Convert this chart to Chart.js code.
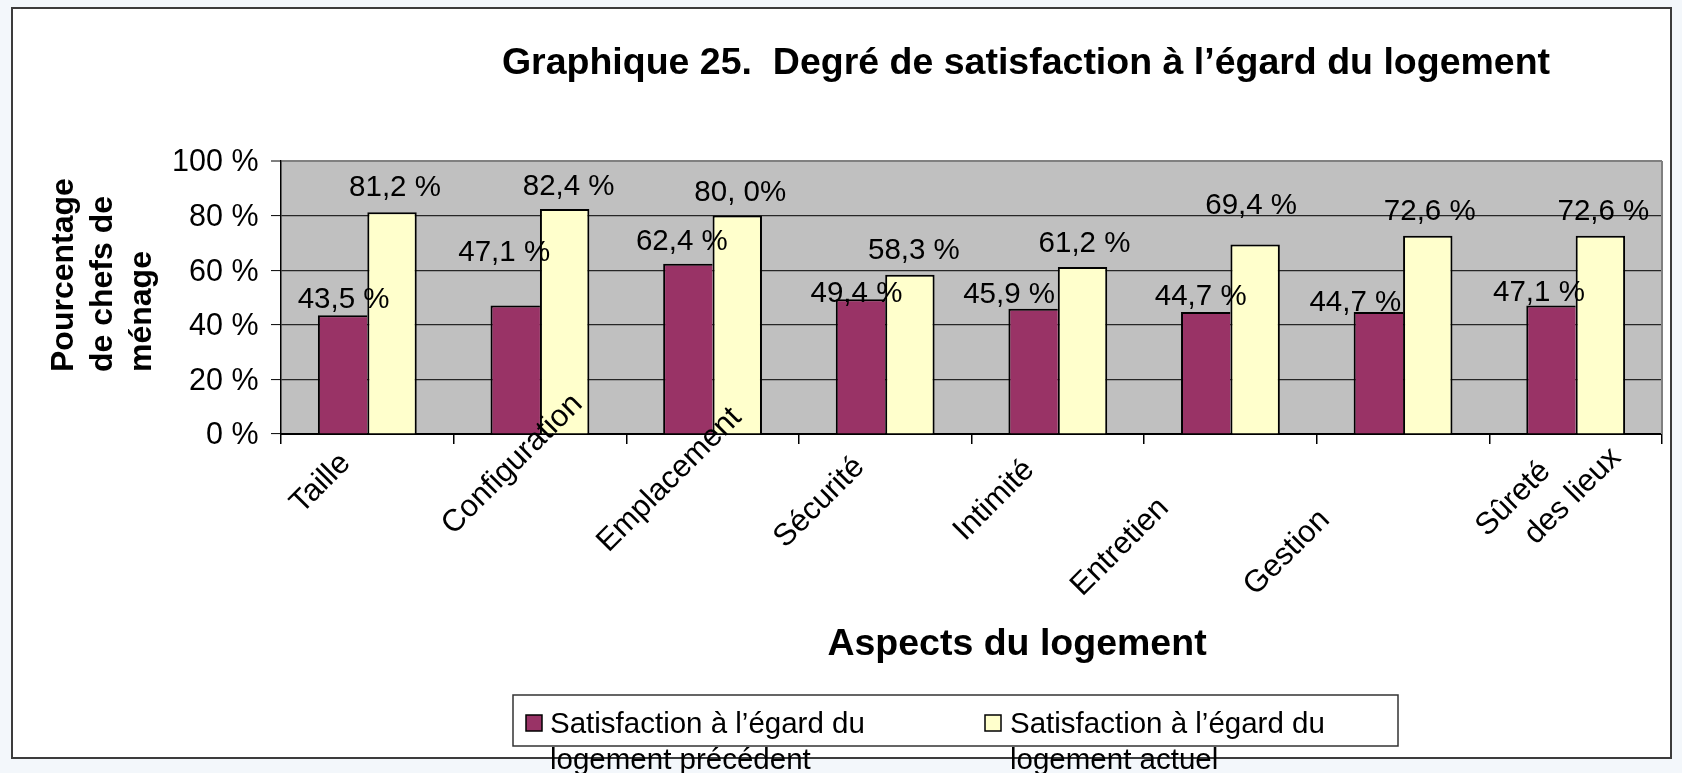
<!DOCTYPE html>
<html>
<head>
<meta charset="utf-8">
<script src="https://cdn.jsdelivr.net/npm/chart.js@4"></script>
<style>
html,body{margin:0;padding:0;background:#F3F7FB;width:1682px;height:773px;overflow:hidden}
#frame{position:absolute;left:11px;top:7px;width:1661px;height:752px;background:#fff;border:2px solid #3c3c3c;box-sizing:border-box}
#c{position:absolute;left:0;top:0}
</style>
</head>
<body>
<div id="frame"></div>
<canvas id="c" width="1682" height="773"></canvas>
<script>
// ---- data ----
const categories = ['Taille', 'Configuration', 'Emplacement', 'Sécurité', 'Intimité', 'Entretien', 'Gestion', ['Sûreté', 'des lieux']];
const previousValues = [43.5, 47.1, 62.4, 49.4, 45.9, 44.7, 44.7, 47.1];
const currentValues = [81.2, 82.4, 80.0, 58.3, 61.2, 69.4, 72.6, 72.6];
const previousLabels = ['43,5 %', '47,1 %', '62,4 %', '49,4 %', '45,9 %', '44,7 %', '44,7 %', '47,1 %'];
const currentLabels = ['81,2 %', '82,4 %', '80, 0%', '58,3 %', '61,2 %', '69,4 %', '72,6 %', '72,6 %'];
const seriesNames = [['Satisfaction à l’égard du', 'logement précédent'], ['Satisfaction à l’égard du', 'logement actuel']];
const yTicks = [0, 20, 40, 60, 80, 100];
const chartTitle = 'Graphique 25.  Degré de satisfaction à l’égard du logement';
const xTitle = 'Aspects du logement';
const yTitle = ['Pourcentage', 'de chefs de', 'ménage'];

// ---- label nudges (pixels, relative to the bar top / tick) ----
const prevLabelShift = [[1, 7], [-11, 44], [-6, 14], [-4, -3], [-24, 6], [-5, 7], [-23, 1], [-12, 4]];
const currLabelShift = [[3, 16], [4, 14], [3, 15], [4, 16], [2, 15], [-4, 31], [2, 16], [3, 16]];
const xLabelAlong = [68, 41, 63, 95, 92, 158, 166, [90, 46]];

const FONT = "'Liberation Sans', Arial, sans-serif";
const COLORS = ['#993366', '#FFFFCC'];

const decor = {
  id: 'decor',
  beforeDraw(chart) {
    const {ctx, chartArea: a} = chart;
    ctx.save();
    ctx.fillStyle = '#C0C0C0';
    ctx.fillRect(a.left, a.top, a.right - a.left, a.bottom - a.top);
    ctx.restore();
  },
  afterDatasetsDraw(chart) {
    const ctx = chart.ctx;
    ctx.save();
    ctx.font = '29.5px ' + FONT;
    ctx.fillStyle = '#000';
    ctx.textAlign = 'center';
    ctx.textBaseline = 'alphabetic';
    [[previousLabels, prevLabelShift], [currentLabels, currLabelShift]].forEach(([txt, sh], di) => {
      chart.getDatasetMeta(di).data.forEach((el, i) => {
        ctx.fillText(txt[i], el.x + sh[i][0], el.y - sh[i][1]);
      });
    });
    ctx.restore();
  },
  afterDraw(chart) {
    const {ctx, chartArea: a} = chart;
    ctx.save();
    // right border of plot area
    ctx.strokeStyle = '#808080';
    ctx.lineWidth = 2;
    ctx.beginPath();
    ctx.moveTo(a.right, a.top);
    ctx.lineTo(a.right, a.bottom);
    ctx.stroke();

    // main title
    ctx.fillStyle = '#000';
    ctx.font = 'bold 37.5px ' + FONT;
    ctx.textAlign = 'center';
    ctx.textBaseline = 'alphabetic';
    ctx.fillText(chartTitle, 1026, 74);

    // x axis title
    ctx.fillText(xTitle, 1017, 655);

    // y axis title
    ctx.font = 'bold 32px ' + FONT;
    ctx.textAlign = 'left';
    yTitle.forEach((line, j) => {
      ctx.save();
      ctx.translate(73 + 39 * j, 372);
      ctx.rotate(-Math.PI / 2);
      ctx.fillText(line, 0, 0);
      ctx.restore();
    });

    // rotated category labels
    const xs = chart.scales.x;
    ctx.font = '31px ' + FONT;
    ctx.textAlign = 'center';
    ctx.textBaseline = 'middle';
    const r = Math.SQRT1_2;
    categories.forEach((lab, i) => {
      const lines = Array.isArray(lab) ? lab : [lab];
      const tx = xs.getPixelForValue(i);
      lines.forEach((line, j) => {
        const along = Array.isArray(xLabelAlong[i]) ? xLabelAlong[i][j] : xLabelAlong[i];
        const perp = 2 + j * 40;
        const cx = tx - along * r + perp * r;
        const cy = a.bottom + along * r + perp * r;
        ctx.save();
        ctx.translate(cx, cy);
        ctx.rotate(-Math.PI / 4);
        ctx.fillText(line, 0, 0);
        ctx.restore();
      });
    });

    // legend
    ctx.strokeStyle = '#333';
    ctx.lineWidth = 1.5;
    ctx.strokeRect(513, 695, 885, 51);
    const items = [{sq: 526, tx: 550}, {sq: 985, tx: 1010}];
    ctx.textAlign = 'left';
    ctx.textBaseline = 'alphabetic';
    ctx.font = '29.5px ' + FONT;
    items.forEach((it, k) => {
      ctx.fillStyle = COLORS[k];
      ctx.fillRect(it.sq, 715, 16, 16);
      ctx.strokeStyle = '#000';
      ctx.lineWidth = 1.5;
      ctx.strokeRect(it.sq, 715, 16, 16);
      ctx.fillStyle = '#000';
      seriesNames[k].forEach((line, j) => ctx.fillText(line, it.tx, 733 + 36 * j));
    });
    ctx.restore();
  }
};

new Chart(document.getElementById('c'), {
  type: 'bar',
  data: {
    labels: categories,
    datasets: [
      {label: seriesNames[0].join(' '), data: previousValues, backgroundColor: COLORS[0], borderColor: '#000',
       borderWidth: {top: 2, left: 2, right: 0, bottom: 0}},
      {label: seriesNames[1].join(' '), data: currentValues, backgroundColor: COLORS[1], borderColor: '#000',
       borderWidth: {top: 2, left: 2, right: 2, bottom: 0}}
    ]
  },
  options: {
    responsive: false,
    animation: false,
    devicePixelRatio: 1,
    layout: {padding: {left: 0, top: 161, right: 20, bottom: 0}},
    datasets: {bar: {categoryPercentage: 0.5725, barPercentage: 1}},
    plugins: {legend: {display: false}, title: {display: false}, tooltip: {enabled: false}},
    scales: {
      x: {
        grid: {offset: true, drawOnChartArea: false, drawTicks: true, tickLength: 10, color: '#000', lineWidth: 1.5},
        border: {color: '#000', width: 2},
        ticks: {display: false},
        afterFit: s => { s.height = 339; }
      },
      y: {
        min: 0, max: 100,
        afterBuildTicks: s => { s.ticks = yTicks.map(v => ({value: v})); },
        grid: {
          color: c => c.tick && c.tick.value === 100 ? '#808080' : (c.tick && c.tick.value === 0 ? '#000' : '#262626'),
          lineWidth: c => c.tick && c.tick.value === 100 ? 2 : 1.2,
          tickLength: 10, tickColor: '#000', tickWidth: 1
        },
        border: {color: '#000', width: 1.5},
        ticks: {callback: v => v + ' %', font: {family: FONT, size: 30.5}, color: '#000', padding: 12.5, labelOffset: 2},
        afterFit: s => { s.width = 281; }
      }
    }
  },
  plugins: [decor]
});
</script>
</body>
</html>
